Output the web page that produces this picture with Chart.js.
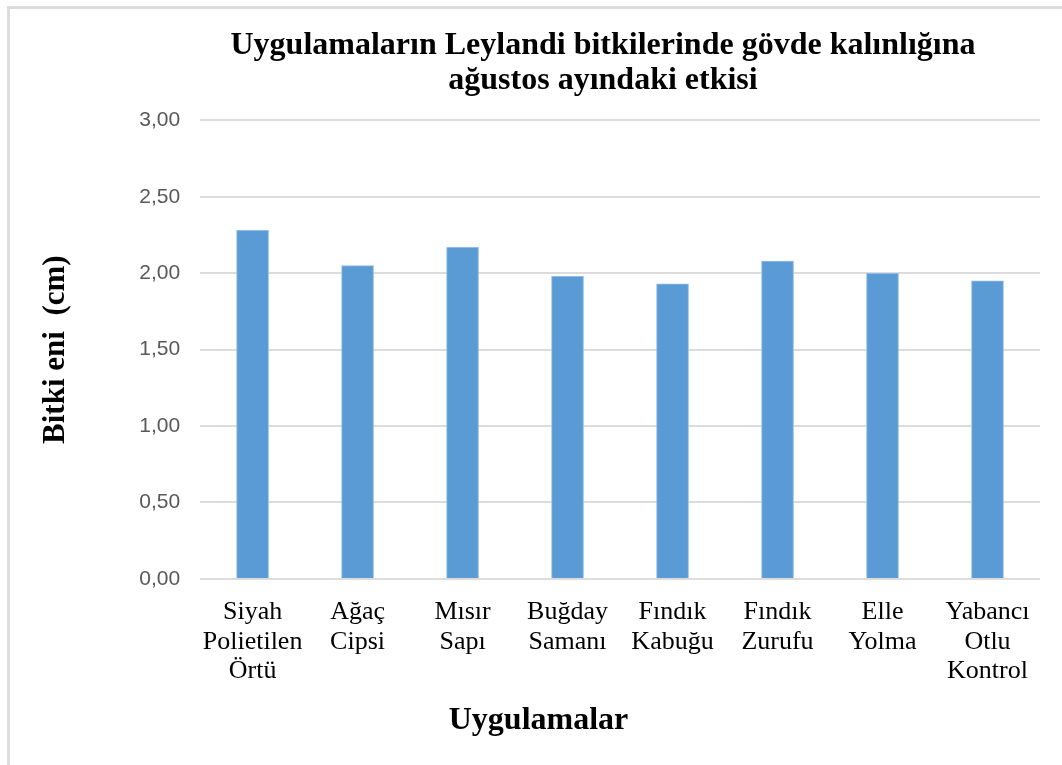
<!DOCTYPE html>
<html>
<head>
<meta charset="utf-8">
<script src="https://cdn.jsdelivr.net/npm/chart.js@4/dist/chart.umd.min.js"></script>
<style>
  html, body { margin: 0; padding: 0; background: #fff; }
  #frame {
    position: absolute; left: 7px; top: 6px; width: 1100px; height: 800px;
    border-left: 3px solid #dcdcdc; border-top: 3px solid #dcdcdc;
  }
  #wrap { position: absolute; left: 0; top: 0; width: 1062px; height: 765px; }
</style>
</head>
<body>
<div id="frame"></div>
<div id="wrap"><canvas id="canvas" width="1062" height="765"></canvas></div>
<script>
// categories (multi-line labels) and values
var categories = [
    ['Siyah', 'Polietilen', 'Örtü'],
    ['Ağaç', 'Cipsi'],
    ['Mısır', 'Sapı'],
    ['Buğday', 'Samanı'],
    ['Fındık', 'Kabuğu'],
    ['Fındık', 'Zurufu'],
    ['Elle', 'Yolma'],
    ['Yabancı', 'Otlu', 'Kontrol']
]
var bitkiEni = [2.28, 2.05, 2.17, 1.98, 1.93, 2.08, 2.00, 1.95]
var titleLines = ['Uygulamaların Leylandi bitkilerinde gövde kalınlığına', 'ağustos ayındaki etkisi']
var xTitle = 'Uygulamalar'
var yTitle = 'Bitki eni  (cm)'

var serif = "'Liberation Serif', 'Times New Roman', serif"

// shift the main title so it sits like the original (a bit left of the plot centre)
var titleShift = {
    id: 'titleShift',
    afterLayout: function(chart) {
        if (chart.titleBlock) {
            chart.titleBlock.left = 144
            chart.titleBlock.right = 1062
        }
    }
}

let ctx = document.getElementById('canvas').getContext('2d');

let chart = new Chart(ctx, {
    type: 'bar',
    data: {
        labels: categories,
        datasets: [{
            label: 'Bitki eni',
            data: bitkiEni,
            backgroundColor: '#5b9bd5',
            borderColor: '#8fbde6',
            borderWidth: 1,
            barThickness: 32
        }]
    },
    options: {
        responsive: false,
        animation: false,
        layout: { padding: { top: 18, left: 37, right: 22, bottom: 25 } },
        plugins: {
            legend: { display: false },
            tooltip: { enabled: false },
            title: {
                display: true,
                text: titleLines,
                color: '#000',
                font: { family: serif, size: 32, weight: 'bold', lineHeight: 1.1 },
                padding: { top: 10, bottom: 22 }
            },
            subtitle: {
                display: true,
                position: 'bottom',
                text: xTitle,
                color: '#000',
                font: { family: serif, size: 32, weight: 'bold', lineHeight: 1.2 },
                padding: { top: 5, bottom: 0 }
            }
        },
        scales: {
            x: {
                grid: { display: false },
                border: { display: false },
                ticks: {
                    color: '#000',
                    font: { family: serif, size: 26, lineHeight: 1.15 },
                    maxRotation: 0,
                    autoSkip: false,
                    padding: 10
                }
            },
            y: {
                min: 0,
                max: 3,
                border: { display: false },
                grid: { color: '#dcdcdc', lineWidth: 2, drawTicks: false },
                ticks: {
                    stepSize: 0.5,
                    color: '#595959',
                    font: { family: "'Liberation Sans', Arial, sans-serif", size: 21 },
                    padding: 20,
                    callback: function(v) { return v.toFixed(2).replace('.', ',') }
                },
                title: {
                    display: true,
                    text: yTitle,
                    color: '#000',
                    font: { family: serif, size: 31, weight: 'bold', lineHeight: 1.2 },
                    padding: { top: 0, bottom: 45 }
                }
            }
        }
    },
    plugins: [titleShift]
})
</script>
</body>
</html>
